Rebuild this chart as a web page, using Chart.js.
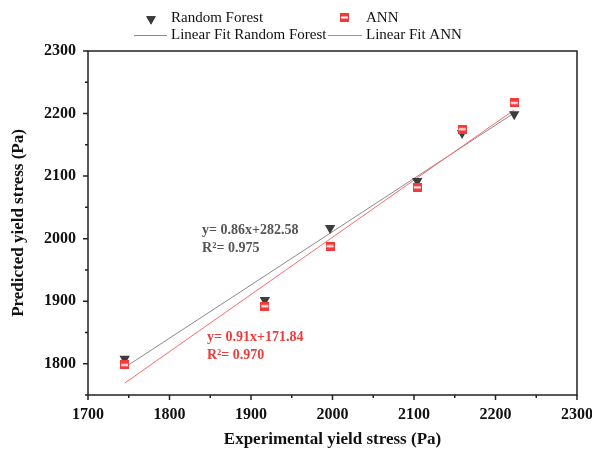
<!DOCTYPE html>
<html>
<head>
<meta charset="utf-8">
<script src="https://cdn.jsdelivr.net/npm/chart.js@4.4.1/dist/chart.umd.min.js"></script>
<style>
  html, body { margin: 0; padding: 0; background: #fff; }
  #wrap { width: 592px; height: 453px; }
</style>
</head>
<body>
<div id="wrap"><canvas id="grafico" width="592" height="453"></canvas></div>
<script>
// valores
const experimental = [1745, 1917, 1997, 2104, 2159, 2223];
const predRF = [1808, 1902, 2017, 2092, 2169, 2199];
const predANN = [1798, 1892, 1988, 2082, 2175, 2217];

// extremos de las rectas de ajuste
const fitX = [1745, 2223];
const fitRF = [1794, 2201];
const fitANN = [1769, 2206];

const xTicks = [1700, 1800, 1900, 2000, 2100, 2200, 2300];
const yTicks = [1800, 1900, 2000, 2100, 2200, 2300];

const eqRF = ['y= 0.86x+282.58', 'R\u00B2= 0.975'];
const eqANN = ['y= 0.91x+171.84', 'R\u00B2= 0.970'];
const eqRFpos = [1840, 2013];
const eqANNpos = [1846, 1842];

const COLORES = {
    RF: '#3c3c3c',
    RF_LINEA: '#8a8a8a',
    ANN: '#f23a3a',
    ANN_LINEA: '#ff6a6a',
    TEXTO_RF: '#555555',
    TEXTO_ANN: '#ee3b3b',
    EJE: '#222222'
};
const FUENTE = "'Liberation Serif', 'Times New Roman', serif";

// marcador cuadrado rojo con banda blanca
function marcadorANN() {
    const c = document.createElement('canvas');
    c.width = 9; c.height = 9;
    const g = c.getContext('2d');
    g.fillStyle = COLORES.ANN;
    g.fillRect(0, 0, 9, 9);
    g.fillStyle = '#ffffff';
    g.fillRect(1, 3.5, 7, 2);
    return c;
}
const iconoANN = marcadorANN();

const pts = (xs, ys) => xs.map((x, i) => ({ x: x, y: ys[i] }));

const marcoYTicks = {
    id: 'marcoYTicks',
    afterDraw(chart) {
        const ctx = chart.ctx;
        const a = chart.chartArea;
        const sx = chart.scales.x, sy = chart.scales.y;
        ctx.save();
        ctx.strokeStyle = COLORES.EJE;
        ctx.lineWidth = 1.5;
        ctx.strokeRect(a.left, a.top, a.right - a.left, a.bottom - a.top);
        ctx.beginPath();
        sx.ticks.forEach((t, i) => {
            const p = sx.getPixelForTick(i);
            const len = t.value % 100 === 0 ? 5 : 3;
            ctx.moveTo(p, a.bottom);
            ctx.lineTo(p, a.bottom + len);
        });
        sy.ticks.forEach((t, i) => {
            const p = sy.getPixelForTick(i);
            const len = t.value % 100 === 0 ? 5 : 3;
            ctx.moveTo(a.left, p);
            ctx.lineTo(a.left - len, p);
        });
        ctx.stroke();

        // ecuaciones
        ctx.font = 'bold 14px ' + FUENTE;
        ctx.textBaseline = 'middle';
        ctx.textAlign = 'left';
        ctx.fillStyle = COLORES.TEXTO_RF;
        let px = sx.getPixelForValue(eqRFpos[0]), py = sy.getPixelForValue(eqRFpos[1]);
        ctx.fillText(eqRF[0], px, py);
        ctx.fillText(eqRF[1], px, py + 18);
        ctx.fillStyle = COLORES.TEXTO_ANN;
        px = sx.getPixelForValue(eqANNpos[0]); py = sy.getPixelForValue(eqANNpos[1]);
        ctx.fillText(eqANN[0], px, py);
        ctx.fillText(eqANN[1], px, py + 18);

        // leyenda
        ctx.font = '15px ' + FUENTE;
        ctx.fillStyle = '#111111';
        Chart.helpers.drawPoint(ctx, { pointStyle: 'triangle', rotation: 180, radius: 5.5, borderWidth: 0 }, 151, 19);
        ctx.fillStyle = COLORES.RF;
        ctx.beginPath();
        Chart.helpers.drawPoint(ctx, { pointStyle: 'triangle', rotation: 180, radius: 5.5, borderWidth: 0 }, 151, 19);
        ctx.drawImage(iconoANN, 340, 13);
        ctx.fillStyle = '#111111';
        ctx.fillText('Random Forest', 171, 18);
        ctx.fillText('ANN', 366, 18);
        ctx.fillText('Linear Fit Random Forest', 171, 35);
        ctx.fillText('Linear Fit ANN', 366, 35);
        ctx.lineWidth = 1;
        ctx.strokeStyle = COLORES.RF_LINEA;
        ctx.beginPath(); ctx.moveTo(134, 35.5); ctx.lineTo(167, 35.5); ctx.stroke();
        ctx.strokeStyle = COLORES.ANN_LINEA;
        ctx.beginPath(); ctx.moveTo(328, 35.5); ctx.lineTo(362, 35.5); ctx.stroke();
        ctx.restore();
    }
};

new Chart(document.getElementById('grafico'), {
    type: 'scatter',
    data: {
        datasets: [
            {
                label: 'Random Forest',
                data: pts(experimental, predRF),
                pointStyle: 'triangle',
                rotation: 180,
                pointRadius: 6,
                backgroundColor: COLORES.RF,
                borderColor: COLORES.RF,
                borderWidth: 0,
                order: 1
            },
            {
                label: 'ANN',
                data: pts(experimental, predANN),
                pointStyle: iconoANN,
                order: 0
            },
            {
                label: 'Linear Fit Random Forest',
                data: pts(fitX, fitRF),
                showLine: true,
                pointRadius: 0,
                borderColor: COLORES.RF_LINEA,
                borderWidth: 1,
                order: 3
            },
            {
                label: 'Linear Fit ANN',
                data: pts(fitX, fitANN),
                showLine: true,
                pointRadius: 0,
                borderColor: COLORES.ANN_LINEA,
                borderWidth: 1,
                order: 2
            }
        ]
    },
    options: {
        responsive: false,
        animation: false,
        layout: { padding: { top: 51, right: 15, left: 0, bottom: 0 } },
        plugins: {
            legend: { display: false },
            tooltip: { enabled: false }
        },
        scales: {
            x: {
                type: 'linear',
                min: xTicks[0],
                max: xTicks[xTicks.length - 1],
                grid: { display: false, tickLength: 6 },
                border: { display: false },
                ticks: {
                    stepSize: 50,
                    autoSkip: false,
                    maxRotation: 0,
                    padding: 4,
                    color: '#111111',
                    font: { family: FUENTE, size: 16, weight: 'bold' },
                    callback: v => xTicks.includes(v) ? String(v) : ''
                },
                title: {
                    display: true,
                    text: 'Experimental yield stress (Pa)',
                    color: '#111111',
                    font: { family: FUENTE, size: 17, weight: 'bold' },
                    padding: { top: 0, bottom: 3 }
                },
                afterFit: s => { s.height = 58; s.paddingLeft = 0; s.paddingRight = 0; }
            },
            y: {
                type: 'linear',
                min: 1750,
                max: yTicks[yTicks.length - 1],
                grid: { display: false, tickLength: 6 },
                border: { display: false },
                ticks: {
                    stepSize: 50,
                    autoSkip: false,
                    padding: 6,
                    color: '#111111',
                    font: { family: FUENTE, size: 16, weight: 'bold' },
                    callback: v => yTicks.includes(v) ? String(v) : ''
                },
                title: {
                    display: true,
                    text: 'Predicted yield stress (Pa)',
                    color: '#111111',
                    font: { family: FUENTE, size: 17, weight: 'bold' },
                    padding: { top: 8, bottom: 0 }
                },
                afterFit: s => { s.width = 88; s.paddingTop = 0; s.paddingBottom = 0; }
            }
        }
    },
    plugins: [marcoYTicks]
});
</script>
</body>
</html>
